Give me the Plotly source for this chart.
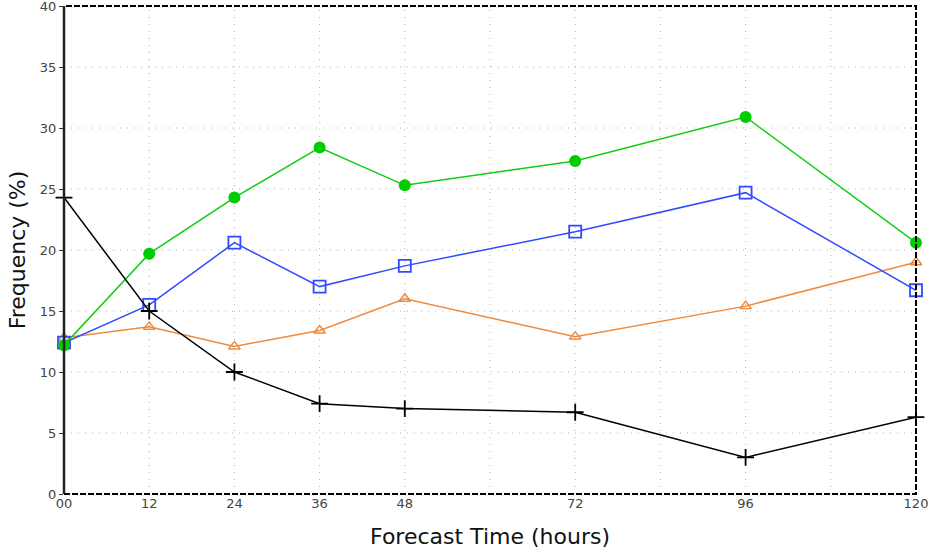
import plotly.graph_objects as go

hours = [0, 12, 24, 36, 48, 72, 96, 120]
black_plus = [24.3, 15.0, 10.0, 7.4, 7.0, 6.7, 3.0, 6.3]
green_circle = [12.2, 19.7, 24.3, 28.4, 25.3, 27.3, 30.9, 20.6]
blue_square = [12.4, 15.5, 20.6, 17.0, 18.7, 21.5, 24.7, 16.7]
orange_triangle = [12.8, 13.7, 12.1, 13.4, 16.0, 12.9, 15.4, 19.0]

x_tickvals = [0, 12, 24, 36, 48, 72, 96, 120]
x_ticktext = ["00", "12", "24", "36", "48", "72", "96", "120"]
y_tickvals = [0, 5, 10, 15, 20, 25, 30, 35, 40]
x_gridvals = [12, 24, 36, 48, 60, 72, 84, 96, 108]

font_family = "DejaVu Sans"
grid_style = dict(color="#b0b0b0", width=1, dash="1px,6px")

fig = go.Figure()

fig.add_trace(go.Scatter(
    x=hours, y=orange_triangle, mode="lines+markers",
    line=dict(color="#f08a3c", width=1.5),
    marker=dict(symbol="triangle-up-open", size=10, color="#f08a3c", line=dict(width=1.5)),
    cliponaxis=False, showlegend=False))
fig.add_trace(go.Scatter(
    x=hours, y=blue_square, mode="lines+markers",
    line=dict(color="#2f4bff", width=1.5),
    marker=dict(symbol="square-open", size=12, color="#2f4bff", line=dict(width=1.8)),
    cliponaxis=False, showlegend=False))
fig.add_trace(go.Scatter(
    x=hours, y=green_circle, mode="lines+markers",
    line=dict(color="#11cc11", width=1.5),
    marker=dict(symbol="circle", size=12, color="#00cc00"),
    cliponaxis=False, showlegend=False))
fig.add_trace(go.Scatter(
    x=hours, y=black_plus, mode="lines+markers",
    line=dict(color="#000000", width=1.5),
    marker=dict(symbol="cross-thin", size=12, color="#000000", line=dict(width=1.8, color="#000000")),
    cliponaxis=False, showlegend=False))

# gridlines (dotted, sparse)
for h in x_gridvals:
    fig.add_shape(type="line", xref="x", yref="paper", x0=h, x1=h, y0=0, y1=1,
                  line=grid_style, layer="below")
for v in y_tickvals[1:-1]:
    fig.add_shape(type="line", xref="paper", yref="y", x0=0, x1=1, y0=v, y1=v,
                  line=grid_style, layer="below")

fig.add_shape(type="rect", xref="paper", yref="paper", x0=0, y0=0, x1=1, y1=1,
              line=dict(color="#000000", width=2, dash="6px,2px"), layer="above")
fig.add_shape(type="line", xref="paper", yref="paper", x0=0, y0=0, x1=0, y1=1,
              line=dict(color="#222222", width=2.5), layer="above")

fig.update_layout(
    width=939, height=552,
    margin=dict(l=64, r=23, t=6, b=58, autoexpand=False),
    paper_bgcolor="white", plot_bgcolor="white",
    font=dict(family=font_family, color="#333333"),
    xaxis=dict(
        range=[0, 120], tickmode="array", tickvals=x_tickvals, ticktext=x_ticktext,
        showgrid=False, zeroline=False, showline=False, automargin=False,
        ticks="", tickfont=dict(size=13, color="#444444"), ticklabeloverflow="allow",
        title=dict(text="Forecast Time (hours)", font=dict(size=22, color="#111111"), standoff=18),
    ),
    yaxis=dict(
        range=[0, 40], tickmode="array", tickvals=y_tickvals,
        showgrid=False, zeroline=False, showline=False, automargin=False,
        ticks="outside", ticklen=4, tickcolor="#333333", ticklabeloverflow="allow",
        tickfont=dict(size=13, color="#444444"),
        title=dict(text="Frequency (%)", font=dict(size=22, color="#111111"), standoff=8),
    ),
)

fig.write_html("out.html", config={"displayModeBar": False},
               post_script="document.body.style.margin='0px';document.body.style.overflow='hidden';")
